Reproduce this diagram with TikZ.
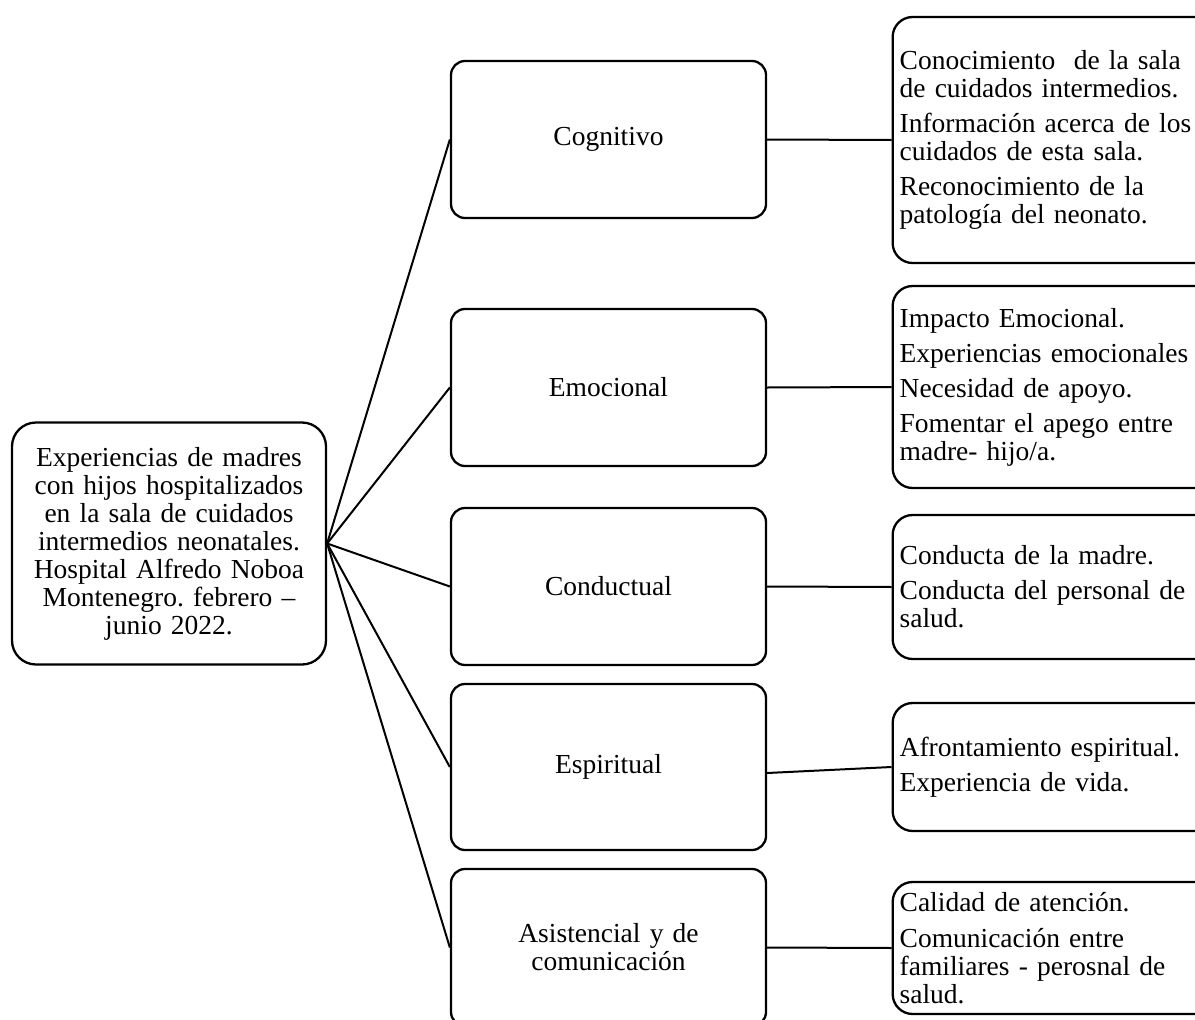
\documentclass[tikz,border=0pt]{standalone}
\usepackage{fontspec}
\setmainfont{Liberation Serif}
\frenchspacing
\begin{document}
\begin{tikzpicture}[x=1pt,y=-1pt]
\tikzset{
  box/.style={draw, line width=2.3pt, font=\fontsize{27.5}{28}\selectfont},
  rootbox/.style={box, rounded corners=24pt, minimum width=314pt, minimum height=242pt,
    text width=300pt, align=center, inner sep=0pt},
  midbox/.style={box, rounded corners=14pt, minimum width=315pt,
    text width=300pt, align=center, inner sep=0pt},
  itembox/.style={box, rounded corners=20pt, anchor=west, text width=330pt,
    align=left, inner xsep=7pt, inner ysep=0pt},
  link/.style={line width=2pt}
}
\fill[white] (0,0) rectangle (1195,1020);
\useasboundingbox (0,0) rectangle (1195,1020);

% central topic
\node[rootbox] (root) at (169,543.5) {Experiencias de madres\\con hijos hospitalizados\\en la sala de cuidados\\intermedios neonatales.\\Hospital Alfredo Noboa\\Montenegro. febrero --\\junio 2022.};

% dimensions
\node[midbox, minimum height=157pt] (cog) at (608.5,139.5) {Cognitivo};
\node[midbox, minimum height=157pt] (emo) at (608.5,387.5) {Emocional};
\node[midbox, minimum height=157pt] (con) at (608.5,586.5) {Conductual};
\node[midbox, minimum height=166pt] (esp) at (608.5,767) {Espiritual};
\node[midbox, minimum height=157pt] (asi) at (608.5,947.5) {Asistencial y de\\comunicación};

% categories
\node[itembox, minimum height=246pt] (r1) at (891.5,140) {Conocimiento\ \ de la sala\\de cuidados intermedios.\\[7pt]Información acerca de los\\cuidados de esta sala.\\[7pt]Reconocimiento de la\\patología del neonato.};
\node[itembox, minimum height=202pt] (r2) at (891.5,387) {Impacto Emocional.\\[7pt]Experiencias emocionales\\[7pt]Necesidad de apoyo.\\[7pt]Fomentar el apego entre\\madre- hijo/a.};
\node[itembox, minimum height=144pt] (r3) at (891.5,587) {Conducta de la madre.\\[7pt]Conducta del personal de\\salud.};
\node[itembox, minimum height=128pt] (r4) at (891.5,767) {Afrontamiento espiritual.\\[7pt]Experiencia de vida.};
\node[itembox, minimum height=132pt] (r5) at (891.5,948) {Calidad de atención.\\[8pt]Comunicación entre\\familiares - perosnal de\\salud.};

% fan from the central topic
\foreach \m in {cog,emo,con,esp,asi}
  \draw[link] (root.east) -- (\m.west);

% links to the categories
\draw[link] (cog.east) -- (r1.west);
\draw[link] (emo.east) -- (r2.west);
\draw[link] (con.east) -- (r3.west);
\draw[link] ([yshift=-6pt]esp.east) -- (r4.west);
\draw[link] (asi.east) -- (r5.west);
\end{tikzpicture}
\end{document}
